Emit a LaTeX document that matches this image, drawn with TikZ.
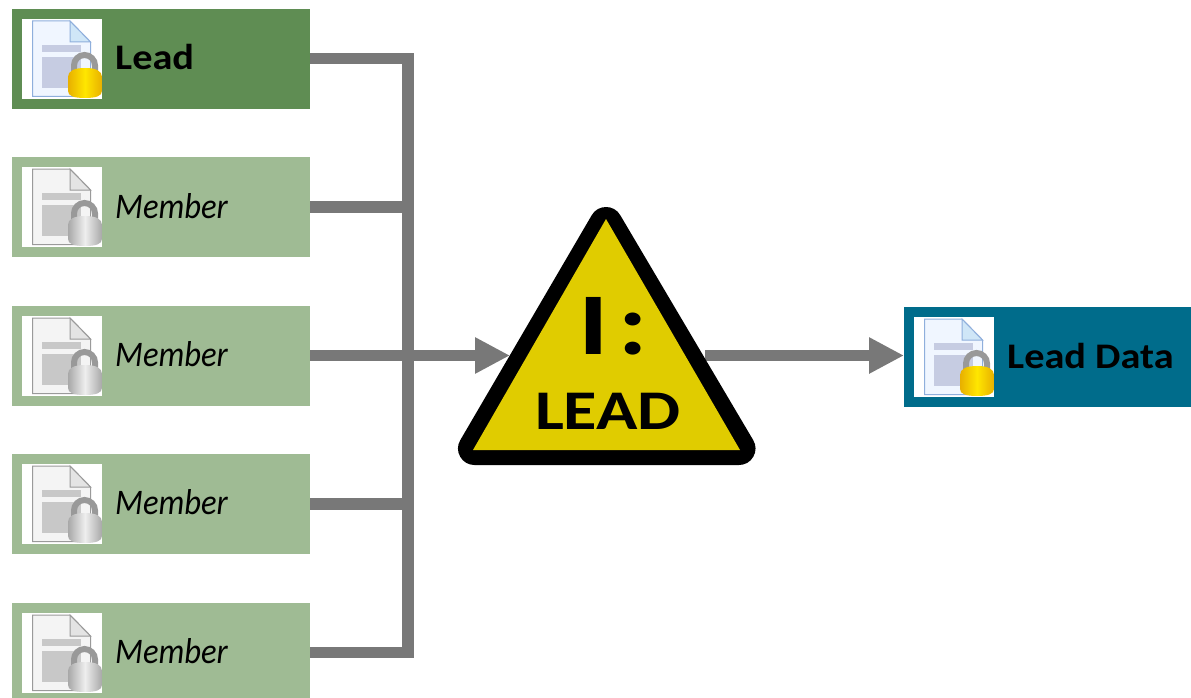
\documentclass[tikz,border=0pt]{standalone}
\usepackage{fontspec}
\setmainfont{Carlito}
\usetikzlibrary{arrows.meta}
\definecolor{leadgreen}{HTML}{5F8D53}
\definecolor{membergreen}{HTML}{9FBB94}
\definecolor{teal}{HTML}{006C8B}
\definecolor{signyellow}{HTML}{E0CC00}
\definecolor{wire}{HTML}{787878}
\definecolor{cborder}{HTML}{8FAFDC}
\definecolor{cpage}{HTML}{F0F6FF}
\definecolor{cpanel}{HTML}{C6CCE2}
\definecolor{cfold}{HTML}{CFE6F7}
\definecolor{clocka}{HTML}{FFE600}
\definecolor{clockb}{HTML}{E8B000}
\definecolor{gborder}{HTML}{9A9A9A}
\definecolor{gpage}{HTML}{F4F4F4}
\definecolor{gpanel}{HTML}{C8C8C8}
\definecolor{gfold}{HTML}{E4E4E4}
\definecolor{glocka}{HTML}{EEEEEE}
\definecolor{glockb}{HTML}{A8A8A8}
\tikzset{
  x=1pt,y=-1pt,
  box/.style={minimum width=298pt,minimum height=100pt,inner sep=0pt,outer sep=0pt,draw=none},
  label/.style={anchor=west,inner sep=0pt,font=\fontsize{36}{36}\selectfont,text=black},
  conn/.style={draw=wire,line width=11.5pt},
  arrowconn/.style={draw=wire,line width=11.5pt,-{Triangle[length=35pt,width=34pt]}},
}
\newcommand{\boldwide}[1]{\scalebox{1.12}[1]{\bfseries #1}}
\newcommand{\membertext}[1]{\scalebox{0.905}[1]{\itshape #1}}
% icon: #1 = left, #2 = top, colour prefix #3
\newcommand{\docicon}[3]{%
  \begin{scope}[shift={(#1,#2)}]
    \fill[white] (0,0) rectangle (80,80);
    \filldraw[draw=#3border,fill=#3page,line width=1pt] (10.5,2) -- (48,2) -- (68.5,23) -- (68.5,77.5) -- (10.5,77.5) -- cycle;
    \filldraw[draw=#3border,fill=#3fold,line width=1pt] (48,2) -- (48,23) -- (68.5,23) -- cycle;
    \fill[#3panel] (20,26) rectangle (59,33);
    \fill[#3panel] (20,38) rectangle (59,69);
    \draw[gray!80,line width=6pt] (52,54) -- (52,46.5) arc[start angle=180,end angle=0,radius=10.5pt] -- (73,54);
    \shade[left color=#3lockb,right color=#3lockb,middle color=#3locka] (46,58) .. controls (46,52) and (52,49) .. (63,49) .. controls (74,49) and (80,52) .. (80,58) -- (80,72) .. controls (80,77) and (74,79) .. (63,79) .. controls (52,79) and (46,77) .. (46,72) -- cycle;
  \end{scope}}
\begin{document}
\begin{tikzpicture}
\useasboundingbox (0,0) rectangle (1191,698);
\node[box,fill=leadgreen] (lead) at (161,59) {};
\node[box,fill=membergreen] (m1) at (161,207) {};
\node[box,fill=membergreen] (m2) at (161,356) {};
\node[box,fill=membergreen] (m3) at (161,504) {};
\node[box,fill=membergreen,minimum height=95pt] (m4) at (161,650.5) {};
\node[box,fill=teal,minimum width=287pt] (data) at (1047.5,357) {};
\coordinate (busTop) at (408,58.5);
\coordinate (busBot) at (408,652.5);
\coordinate (triW) at (510,355.5);
\coordinate (triE) at (705,355.5);
\draw[conn,line join=miter] (lead.east |- busTop) -- (busTop) -- (busBot) -- (m4.east |- busBot);
\draw[conn] (m1.east) -- (m1.east -| busTop);
\draw[conn] (m3.east) -- (m3.east -| busTop);
\draw[arrowconn] (m2.east |- triW) -- (triW);
\draw[arrowconn] (triE) -- (data.west |- triE);
\docicon{22}{19}{c}
\docicon{22}{167}{g}
\docicon{22}{316}{g}
\docicon{22}{464}{g}
\docicon{22}{613}{g}
\docicon{914}{317}{c}
\node[label] (tlead) at (115,57) {\boldwide{Lead}};
\node[label] (tm1) at (115,206) {\membertext{Member}};
\node[label] (tm2) at (115,354) {\membertext{Member}};
\node[label] (tm3) at (115,502) {\membertext{Member}};
\node[label] (tm4) at (115,651) {\membertext{Member}};
\node[label] (tdata) at (1007,356) {\boldwide{Lead Data}};
% warning sign
\draw[black,line width=33pt,line join=round] (606,223.5) -- (739,448.5) -- (474.5,448.5) -- cycle;
\fill[signyellow] (606,219) -- (740,450) -- (473,450) -- cycle;
\node[inner sep=0pt,font=\bfseries\fontsize{88}{88}\selectfont] (num) at (613,326) {\scalebox{1.3}[1]{I}\hspace{10pt}\scalebox{1.2}[1]{:}};
\node[inner sep=0pt,font=\bfseries\fontsize{56}{56}\selectfont] (word) at (608,411) {\scalebox{1.22}[1]{LEAD}};
\end{tikzpicture}
\end{document}
